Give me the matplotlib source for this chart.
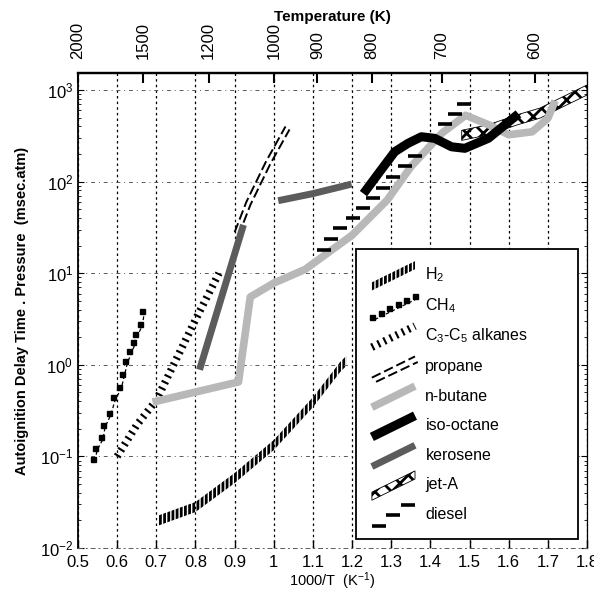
import numpy as np
import matplotlib
matplotlib.use("Agg")
import matplotlib.pyplot as plt
from matplotlib.legend_handler import HandlerBase
from matplotlib.lines import Line2D
from matplotlib.patches import Polygon
from matplotlib import transforms

plt.rcParams['font.family'] = ['Liberation Sans', 'DejaVu Sans']
plt.rcParams['mathtext.fontset'] = 'custom'
plt.rcParams['mathtext.rm'] = 'Liberation Sans'
plt.rcParams['mathtext.it'] = 'Liberation Sans:italic'
plt.rcParams['mathtext.bf'] = 'Liberation Sans:bold'
plt.rcParams['hatch.linewidth'] = 2.0

# --- data (x = 1000/T, y = tau*P in msec.atm) ---
ch4_x = [0.538, 0.544, 0.559, 0.564, 0.579, 0.590, 0.605, 0.613, 0.621, 0.631, 0.641, 0.646, 0.659, 0.664]
ch4_y = [0.094, 0.124, 0.163, 0.22, 0.30, 0.44, 0.57, 0.79, 1.1, 1.41, 1.78, 2.17, 2.79, 3.86]

h2_x = [0.706, 0.80, 0.90, 1.00, 1.10, 1.17, 1.185]
h2_y = [0.020, 0.028, 0.058, 0.133, 0.39, 0.95, 1.1]

c3c5_x = [0.60, 0.65, 0.70, 0.80, 0.86]
c3c5_y = [0.10, 0.22, 0.41, 3.1, 10.0]

propane_x = [0.90, 0.93, 0.98, 1.03]
propane_y = [28, 60, 165, 400]

butane_x = [0.70, 0.91, 0.94, 1.00, 1.08, 1.20, 1.29, 1.35, 1.43, 1.49, 1.55, 1.60, 1.66, 1.70, 1.715]
butane_y = [0.40, 0.65, 5.5, 7.8, 11, 26, 63, 145, 340, 530, 415, 325, 350, 490, 700]

isooct_x = [1.236, 1.274, 1.309, 1.343, 1.377, 1.411, 1.454, 1.488, 1.548, 1.616]
isooct_y = [81, 134, 212, 262, 309, 297, 240, 231, 297, 511]

kero_x = [0.813, 0.92, np.nan, 1.02, 1.10, 1.19]
kero_y = [0.96, 31, np.nan, 63, 74, 92]

jeta_x = [1.48, 1.55, 1.62, 1.68, 1.74, 1.80]
jeta_y = [320, 370, 470, 560, 750, 1000]

diesel_x = [1.129, 1.146, 1.169, 1.202, 1.227, 1.253, 1.280, 1.304, 1.334, 1.360, 1.437, 1.462, 1.486]
diesel_y = [18, 23.6, 31, 40, 52, 67, 86, 111, 147, 190, 423, 543, 703]

labels = ["H$_2$", "CH$_4$", "C$_3$-C$_5$ alkanes", "propane", "n-butane",
          "iso-octane", "kerosene", "jet-A", "diesel"]
kinds = ["h2", "ch4", "c3c5", "propane", "butane", "isooct", "kero", "jeta", "diesel"]

temps = [2000, 1500, 1200, 1000, 900, 800, 700, 600]
xticks = [0.5, 0.6, 0.7, 0.8, 0.9, 1, 1.1, 1.2, 1.3, 1.4, 1.5, 1.6, 1.7, 1.8]
xticklabels = ["0.5", "0.6", "0.7", "0.8", "0.9", "1", "1.1", "1.2", "1.3", "1.4", "1.5", "1.6", "1.7", "1.8"]

BUTANE_C = '#b8b8b8'
KERO_C = '#5c5c5c'
STRIPES = (0, (0.28, 0.6))


def band(y, h):
    y = np.asarray(y, dtype=float)
    return y * 10 ** (-h), y * 10 ** h


class Sample:
    def __init__(self, kind):
        self.kind = kind


class DiagHandler(HandlerBase):
    def create_artists(self, legend, orig_handle, xdescent, ydescent,
                       width, height, fontsize, trans):
        x0, y0 = -xdescent, -ydescent - 2
        x1, y1 = x0 + width, y0 + height + 2
        k = orig_handle.kind
        arts = []
        if k in ("h2", "jeta"):
            h = 0.22 * height
            p = Polygon([[x0, y0 - h], [x1, y1 - h], [x1, y1 + h], [x0, y0 + h]],
                        closed=True, facecolor='white' if k == "jeta" else 'none',
                        edgecolor='k', lw=0 if k == "h2" else 0.6,
                        hatch='||||' if k == "h2" else 'xx')
            arts.append(p)
        elif k == "ch4":
            xs = np.linspace(x0, x1, 6)
            ys = np.linspace(y0, y1, 6)
            arts.append(Line2D(xs + 2, ys - 2, color='k', lw=0.9, ls=(0, (3, 2))))
            arts.append(Line2D(xs, ys, ls='none', marker='s', ms=3.6, color='k'))
        elif k == "c3c5":
            arts.append(Line2D([x0, x1], [y0, y1], color='k', lw=5.5,
                               ls=STRIPES, dash_capstyle='butt'))
        elif k == "propane":
            arts.append(Line2D([x0, x1], [y0, y1], color='k', lw=1.4, ls=(0, (5, 2))))
            arts.append(Line2D([x0 + 3, x1 + 2], [y0 - 3, y1 - 4], color='k', lw=1.4, ls=(0, (5, 2))))
        elif k == "butane":
            arts.append(Line2D([x0, x1], [y0, y1], color=BUTANE_C, lw=5.5, solid_capstyle='butt'))
        elif k == "isooct":
            arts.append(Line2D([x0, x1], [y0, y1], color='k', lw=6.5, solid_capstyle='butt'))
        elif k == "kero":
            arts.append(Line2D([x0, x1], [y0, y1], color=KERO_C, lw=5, solid_capstyle='butt'))
        elif k == "diesel":
            xs = np.linspace(x0 + 5, x1 - 5, 3)
            ys = np.linspace(y0, y1, 3)
            arts.append(Line2D(xs, ys, ls='none', marker='_', ms=10, mew=2.6, color='k'))
        for a in arts:
            a.set_transform(trans)
        return arts


fig = plt.figure(figsize=(5.94, 5.90), dpi=100)
ax = fig.add_axes([0.1313, 0.0712, 0.8569, 0.8051])
ax.set_yscale('log')
ax.set_xlim(0.5, 1.8)
ax.set_ylim(1e-2, 1535)

# H2 : vertically hatched band
lo, hi = band(h2_y, 0.055)
ax.fill_between(h2_x, lo, hi, facecolor='none', edgecolor='k', hatch='||||', lw=0)

# CH4 : squares with dashed line
off = transforms.offset_copy(ax.transData, fig=fig, x=2, y=-2, units='dots')
ax.plot(ch4_x, ch4_y, color='k', lw=0.9, ls=(0, (3, 2)), transform=off)
ax.plot(ch4_x, ch4_y, ls='none', marker='s', ms=3.6, color='k')

# C3-C5 : thick dashed band (stripes across)
ax.plot(c3c5_x, c3c5_y, color='k', lw=5.5, ls=STRIPES, dash_capstyle='butt')

# propane : double dashed line
off2 = transforms.offset_copy(ax.transData, fig=fig, x=4, y=-3, units='dots')
ax.plot(propane_x, propane_y, color='k', lw=1.4, ls=(0, (5, 2)))
ax.plot(propane_x, propane_y, color='k', lw=1.4, ls=(0, (5, 2)), transform=off2)

# n-butane
ax.plot(butane_x, butane_y, color=BUTANE_C, lw=5.5)

# kerosene
ax.plot(kero_x, kero_y, color=KERO_C, lw=5)

# diesel : staggered dashes
ax.plot(diesel_x, diesel_y, ls='none', marker='_', ms=10, mew=2.6, color='k')

# iso-octane
ax.plot(isooct_x, isooct_y, color='k', lw=6.5)

# jet-A : cross hatched band
lo, hi = band(jeta_y, 0.055)
ax.fill_between(jeta_x, lo, hi, facecolor='white', edgecolor='k', hatch='xx', lw=0.6)

# axes styling
ax.set_xticks(xticks)
ax.set_xticklabels(xticklabels)
ax.tick_params(axis='x', which='major', direction='in', length=6, width=1, labelsize=12, pad=5)
ax.tick_params(axis='y', which='both', direction='in', right=True, labelsize=12)
ax.tick_params(axis='y', which='major', length=4)
ax.tick_params(axis='y', which='minor', length=2.5)
ax.xaxis.grid(True, which='major', ls=(0, (2, 2.5)), color='k', lw=0.9)
ax.yaxis.grid(True, which='major', ls=(0, (4, 4, 1, 4)), color='0.35', lw=0.7)
ax.spines['bottom'].set_linestyle((0, (4, 4, 1, 4)))
ax.spines['bottom'].set_linewidth(0.7)
ax.spines['bottom'].set_color('0.35')
ax.spines['left'].set_linewidth(1.3)
ax.spines['right'].set_linewidth(0.9)
ax.spines['top'].set_linewidth(1.6)
ax.set_xlabel("1000/T  (K$^{-1}$)", fontsize=10.5, labelpad=0)
ax.set_ylabel("Autoignition Delay Time . Pressure  (msec.atm)", fontsize=10.5,
              fontweight='bold', labelpad=8)

ax2 = ax.twiny()
ax2.set_xlim(ax.get_xlim())
ax2.set_xticks([1000.0 / t for t in temps])
ax2.set_xticklabels([str(t) for t in temps], rotation=90)
ax2.tick_params(axis='x', direction='in', length=7, width=1.5, labelsize=12, pad=10)
for s in ['bottom', 'left', 'right']:
    ax2.spines[s].set_visible(False)
ax2.spines['top'].set_linewidth(1.6)
ax2.set_xlabel("Temperature (K)", fontsize=11, fontweight='bold', labelpad=1)

handles = [Sample(k) for k in kinds]
leg = ax.legend(handles, labels, handler_map={Sample: DiagHandler()},
                loc='upper left', bbox_to_anchor=(0.546, 0.024, 0.437, 0.605),
                mode='expand', borderaxespad=0, fontsize=11.5, handlelength=2.7,
                handleheight=1.4, handletextpad=0.65, labelspacing=0.70,
                borderpad=1.0, fancybox=False, framealpha=1, edgecolor='k')
leg.get_frame().set_linewidth(1.3)
leg.set_zorder(5)

fig.savefig("out.png", dpi=100)
